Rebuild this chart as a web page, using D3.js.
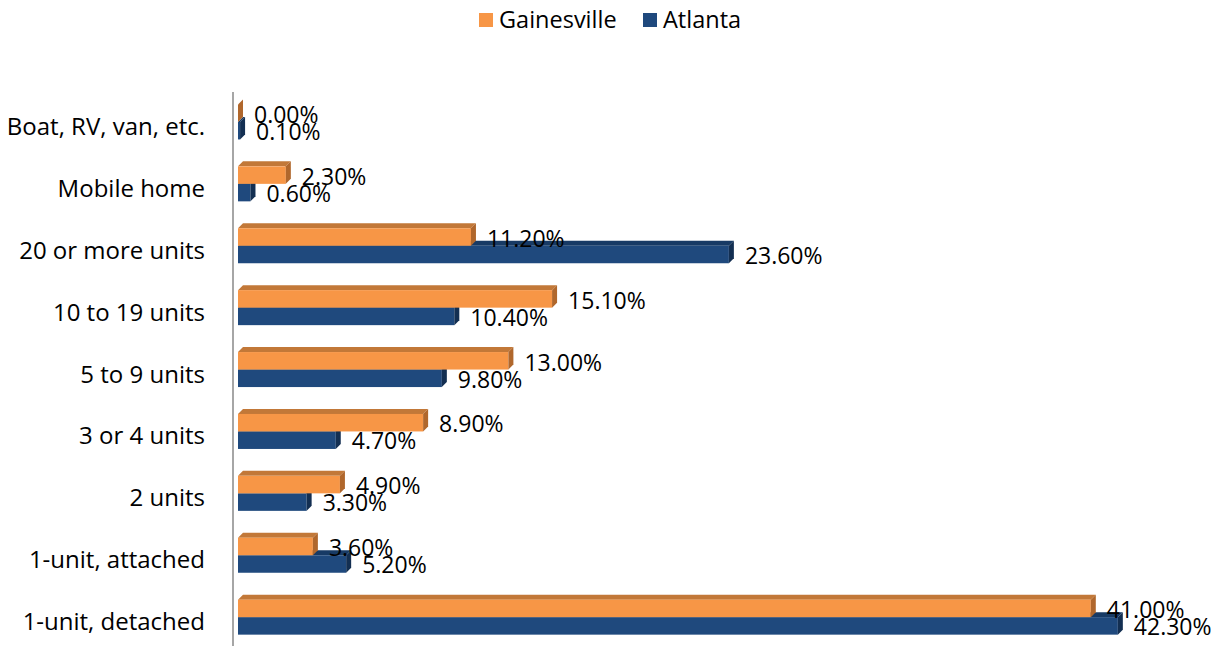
<!DOCTYPE html>
<html>
<head>
<meta charset="utf-8">
<script src="https://cdn.jsdelivr.net/npm/d3@7"></script>
<style>
  html, body { margin: 0; padding: 0; background: #fff; }
  svg { display: block; font-family: "Open Sans", sans-serif; }
</style>
</head>
<body>
<svg id="chart" width="1223" height="646"></svg>
<script>
// Housing units by structure type, share of total (%)
const categories = [
  "Boat, RV, van, etc.",
  "Mobile home",
  "20 or more units",
  "10 to 19 units",
  "5 to 9 units",
  "3 or 4 units",
  "2 units",
  "1-unit, attached",
  "1-unit, detached"
];
const gainesville = [0.0, 2.3, 11.2, 15.1, 13.0, 8.9, 4.9, 3.6, 41.0];
const atlanta     = [0.1, 0.6, 23.6, 10.4, 9.8, 4.7, 3.3, 5.2, 42.3];
const seriesNames = ["Gainesville", "Atlanta"];

const palette = {
  Gainesville: { front: "#F79646", top: "#C27838", side: "#B0672C" },
  Atlanta:     { front: "#1F497D", top: "#173A65", side: "#132F52" }
};

const svg = d3.select("#chart");

const x = d3.scaleLinear().domain([0, 45]).range([238, 1174]);
const y = d3.scaleBand().domain(categories).range([92, 649.1]).padding(0);

const depth = 5;      // 3D offset of top and side faces
const barH = 17.5;    // height of each front face

// junction line between the two bars of a group
const junction = c => y(c) + y.bandwidth() / 2 - 1;

function drawBar(g, v, y0, col) {
  const x0 = x(0), x1 = x(v), y1 = y0 + barH;
  // top face
  g.append("path")
    .attr("d", `M${x0},${y0} L${x0 + depth},${y0 - depth} L${x1 + depth},${y0 - depth} L${x1},${y0} Z`)
    .attr("fill", col.top);
  // front face
  g.append("rect")
    .attr("x", x0).attr("y", y0)
    .attr("width", Math.max(0, x1 - x0)).attr("height", barH)
    .attr("fill", col.front);
  // right side face
  g.append("path")
    .attr("d", `M${x1},${y0} L${x1 + depth},${y0 - depth} L${x1 + depth},${y1 - depth} L${x1},${y1} Z`)
    .attr("fill", col.side);
}

const rows = svg.append("g");
categories.forEach((c, i) => {
  const j = junction(c);
  const g = rows.append("g");
  // Atlanta below the junction, drawn first so Gainesville overlaps its top face
  drawBar(g, atlanta[i], j, palette.Atlanta);
  drawBar(g, gainesville[i], j - barH, palette.Gainesville);
});

// value labels
const labels = svg.append("g").attr("font-size", 23).attr("fill", "#000");
categories.forEach((c, i) => {
  const j = junction(c);
  labels.append("text")
    .attr("x", x(gainesville[i]) + 16).attr("y", j + 1)
    .text(gainesville[i].toFixed(2) + "%");
  labels.append("text")
    .attr("x", x(atlanta[i]) + 16).attr("y", j + 18)
    .text(atlanta[i].toFixed(2) + "%");
});

// category axis
const axisG = svg.append("g");
axisG.append("line")
  .attr("x1", 233).attr("x2", 233)
  .attr("y1", 92).attr("y2", 648)
  .attr("stroke", "#a6a6a6").attr("stroke-width", 2);
axisG.selectAll("text.cat")
  .data(categories)
  .join("text")
  .attr("class", "cat")
  .attr("x", 205)
  .attr("y", c => junction(c) + 13)
  .attr("text-anchor", "end")
  .attr("font-size", 24)
  .attr("fill", "#000")
  .text(c => c);

// legend
const legend = svg.append("g").attr("font-size", 23.5);
const legendX = [479, 643];
seriesNames.forEach((s, i) => {
  legend.append("rect")
    .attr("x", legendX[i]).attr("y", 13)
    .attr("width", 14).attr("height", 14)
    .attr("fill", palette[s].front);
  legend.append("text")
    .attr("x", legendX[i] + 20).attr("y", 28)
    .attr("fill", "#000")
    .text(s);
});
</script>
</body>
</html>
